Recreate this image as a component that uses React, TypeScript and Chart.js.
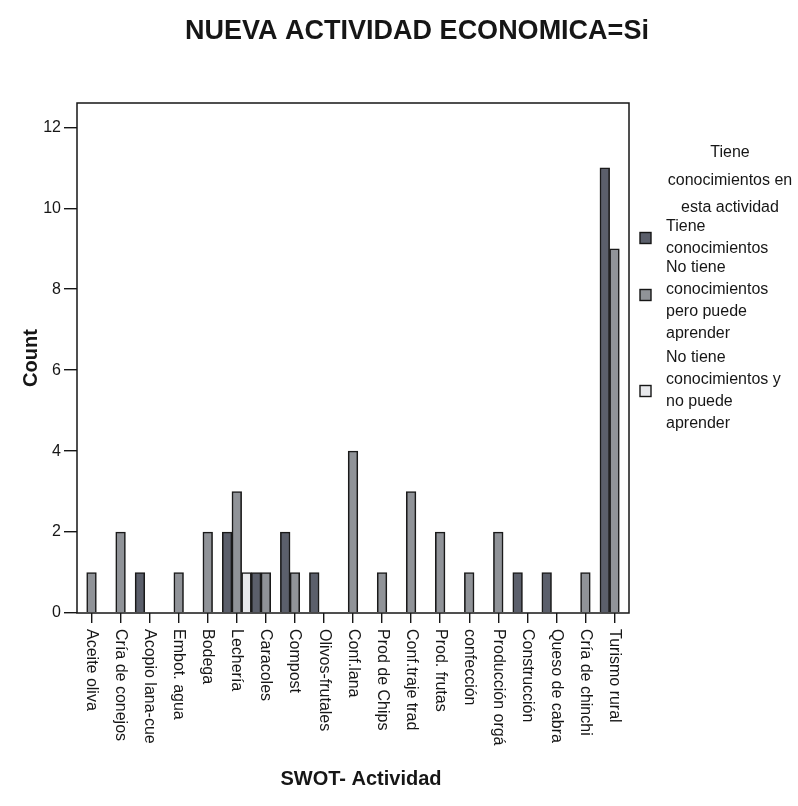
import React, { useEffect, useRef } from "react";
import { Chart, registerables } from "chart.js";

Chart.register(...registerables);

const categories = [
  "Aceite oliva",
  "Cría de conejos",
  "Acopio lana-cue",
  "Embot. agua",
  "Bodega",
  "Lechería",
  "Caracoles",
  "Compost",
  "Olivos-frutales",
  "Conf.lana",
  "Prod de Chips",
  "Conf.traje trad",
  "Prod. frutas",
  "confección",
  "Producción orgá",
  "Construcción",
  "Queso de cabra",
  "Cría de chinchi",
  "Turismo rural",
];

const tieneConocimientos = [0, 0, 1, 0, 0, 2, 1, 2, 1, 0, 0, 0, 0, 0, 0, 1, 1, 0, 11];
const puedeAprender = [1, 2, 0, 1, 2, 3, 1, 1, 0, 4, 1, 3, 2, 1, 2, 0, 0, 1, 9];
const noPuedeAprender = [0, 0, 0, 0, 0, 1, 0, 0, 0, 0, 0, 0, 0, 0, 0, 0, 0, 0, 0];

const yTicks = [0, 2, 4, 6, 8, 10, 12];
const yMax = 12.6;

const chartTitle = "NUEVA ACTIVIDAD ECONOMICA=Si";
const xTitle = "SWOT- Actividad";
const yTitle = "Count";
const legendTitle = ["Tiene", "conocimientos en", "esta actividad"];
const seriesNames = ["Tiene conocimientos", "No tiene conocimientos pero puede aprender", "No tiene conocimientos y no puede aprender"];
const seriesLines = [
  ["Tiene", "conocimientos"],
  ["No tiene", "conocimientos", "pero puede", "aprender"],
  ["No tiene", "conocimientos y", "no puede", "aprender"],
];
const seriesColors = ["#5b5f6b", "#909398", "#e8e9ec"];

const FONT = '"Liberation Sans", Arial, Helvetica, sans-serif';

const decorPlugin = {
  id: "decor",
  afterDraw(chart: any) {
    const ctx = chart.ctx as CanvasRenderingContext2D;
    const { left, top, right, bottom } = chart.chartArea;
    ctx.save();
    // frame
    ctx.strokeStyle = "#161616";
    ctx.lineWidth = 1.5;
    ctx.strokeRect(left, top, right - left, bottom - top);

    // x tick labels, rotated clockwise
    const xs = chart.scales.x;
    ctx.fillStyle = "#161616";
    ctx.font = `16px ${FONT}`;
    categories.forEach((c, i) => {
      const x = xs.getPixelForTick(i);
      ctx.save();
      ctx.translate(x, bottom + 16);
      ctx.rotate(Math.PI / 2);
      ctx.textAlign = "left";
      ctx.textBaseline = "middle";
      ctx.fillText(c, 0, 0);
      ctx.restore();
    });

    // main title
    ctx.font = `bold 27px ${FONT}`;
    ctx.textAlign = "center";
    ctx.textBaseline = "middle";
    ctx.fillText(chartTitle, 417, 32);

    // x title
    ctx.font = `bold 20px ${FONT}`;
    ctx.fillText(xTitle, 361, 779);

    // y title
    ctx.save();
    ctx.translate(31, (top + bottom) / 2);
    ctx.rotate(-Math.PI / 2);
    ctx.fillText(yTitle, 0, 0);
    ctx.restore();

    // legend
    ctx.font = `16px ${FONT}`;
    const titleYs = [153, 181, 208];
    legendTitle.forEach((t, i) => ctx.fillText(t, 730, titleYs[i]));
    const lineH = 22;
    const itemStarts = [227, 268, 358];
    const boxYs = [238, 295, 391];
    ctx.textAlign = "left";
    seriesLines.forEach((lines, k) => {
      lines.forEach((l, j) => ctx.fillText(l, 666, itemStarts[k] + j * lineH));
      const by = boxYs[k];
      ctx.fillStyle = seriesColors[k];
      ctx.fillRect(640, by - 5.5, 11, 11);
      ctx.strokeStyle = "#161616";
      ctx.lineWidth = 1.4;
      ctx.strokeRect(640, by - 5.5, 11, 11);
      ctx.fillStyle = "#161616";
    });
    ctx.restore();
  },
};

export default function App() {
  const ref = useRef<HTMLCanvasElement | null>(null);

  useEffect(() => {
    if (!ref.current) return;
    const toData = (arr: number[]) => arr.map((v) => (v === 0 ? null : v));
    const chart = new Chart(ref.current, {
      type: "bar",
      data: {
        labels: categories,
        datasets: [tieneConocimientos, puedeAprender, noPuedeAprender].map((arr, k) => ({
          label: seriesNames[k],
          data: toData(arr),
          backgroundColor: seriesColors[k],
          borderColor: "#1a1a1a",
          borderWidth: 1.6,
          categoryPercentage: 1,
          barPercentage: 1,
        })),
      },
      options: {
        animation: false,
        responsive: true,
        maintainAspectRatio: false,
        devicePixelRatio: 1,
        layout: { padding: { left: 0, top: 103, right: 169, bottom: 0 } },
        plugins: {
          legend: { display: false },
          title: { display: false },
          tooltip: { enabled: false },
        },
        scales: {
          x: {
            type: "category",
            offset: true,
            grid: {
              offset: false,
              drawOnChartArea: false,
              drawTicks: true,
              tickLength: 10,
              color: "#161616",
              lineWidth: 1.4,
            },
            border: { display: false },
            ticks: { display: false },
            afterFit: (s: any) => {
              s.height = 806 - 613;
            },
          },
          y: {
            min: 0,
            max: yMax,
            grid: {
              drawOnChartArea: false,
              drawTicks: true,
              tickLength: 13,
              color: "#161616",
              lineWidth: 1.4,
            },
            border: { display: false },
            ticks: {
              includeBounds: false,
              padding: 3,
              color: "#161616",
              font: { family: FONT, size: 16 },
            },
            afterBuildTicks: (s: any) => {
              s.ticks = yTicks.map((v) => ({ value: v }));
            },
            afterFit: (s: any) => {
              s.width = 77;
            },
          },
        },
      },
      plugins: [decorPlugin],
    });
    return () => chart.destroy();
  }, []);

  return (
    <div style={{ position: "absolute", left: 0, top: 0, width: 798, height: 806, background: "#fff" }}>
      <canvas ref={ref} />
    </div>
  );
}
